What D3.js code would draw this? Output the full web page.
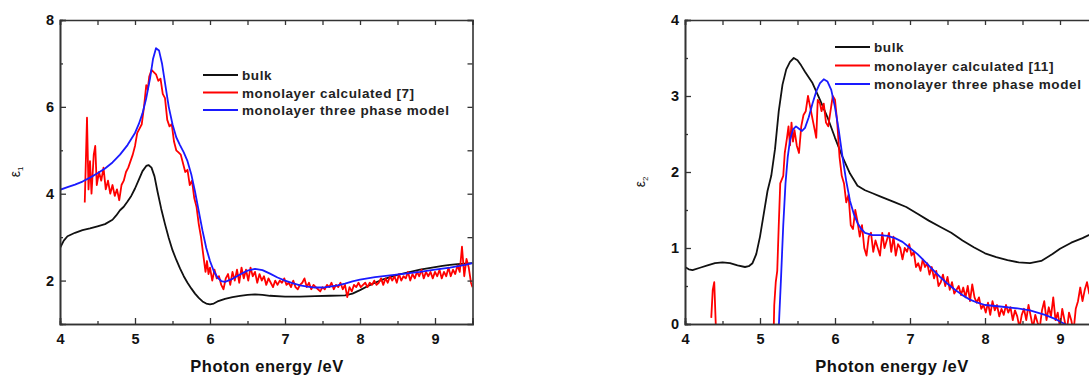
<!DOCTYPE html>
<html>
<head>
<meta charset="utf-8">
<script src="https://cdn.jsdelivr.net/npm/d3@7"></script>
<style>
  body { margin: 0; background: #fff; }
  svg { display: block; font-family: "Liberation Sans", Arial, sans-serif; font-weight: bold; }
</style>
</head>
<body>
<svg id="chart" width="1089" height="376"></svg>
<script>
// ---- data ----
const xTicks = [4, 5, 6, 7, 8, 9];
const xMinor = [4.5, 5.5, 6.5, 7.5, 8.5, 9.5];

// left panel: eps1
const e1Ticks = [2, 4, 6, 8];
const e1Minor = [3, 5, 7];
const e1Bulk = [[4.0,2.75],[4.05,2.92],[4.1,3.02],[4.2,3.1],[4.3,3.16],[4.4,3.2],[4.5,3.25],[4.6,3.3],[4.7,3.4],[4.75,3.5],[4.8,3.62],[4.85,3.7],[4.9,3.82],[4.95,3.95],[5.0,4.12],[5.05,4.32],[5.1,4.52],[5.15,4.64],[5.18,4.66],[5.22,4.6],[5.26,4.4],[5.3,4.05],[5.35,3.65],[5.4,3.3],[5.45,2.98],[5.5,2.7],[5.55,2.48],[5.6,2.28],[5.65,2.1],[5.7,1.95],[5.75,1.82],[5.8,1.7],[5.85,1.6],[5.9,1.52],[5.95,1.47],[6.0,1.45],[6.05,1.47],[6.1,1.52],[6.2,1.58],[6.3,1.62],[6.4,1.65],[6.5,1.67],[6.6,1.68],[6.7,1.67],[6.8,1.65],[7.0,1.63],[7.2,1.63],[7.4,1.64],[7.6,1.65],[7.8,1.66],[7.9,1.7],[8.0,1.78],[8.1,1.87],[8.2,1.95],[8.3,2.02],[8.4,2.08],[8.5,2.13],[8.6,2.17],[8.7,2.21],[8.8,2.25],[8.9,2.28],[9.0,2.31],[9.1,2.34],[9.2,2.36],[9.3,2.38],[9.4,2.39],[9.5,2.4]];
const e1Calc = [[4.33,3.8],[4.36,5.75],[4.38,4.1],[4.40,4.75],[4.42,4.0],[4.45,4.9],[4.47,5.1],[4.49,4.2],[4.52,4.5],[4.55,4.3],[4.58,4.6],[4.61,4.1],[4.64,4.3],[4.67,4.0],[4.70,4.2],[4.73,3.95],[4.76,4.1],[4.79,3.85],[4.82,4.2],[4.85,4.3],[4.88,4.5],[4.91,4.6],[4.94,4.75],[4.97,4.9],[5.00,5.1],[5.03,5.4],[5.06,5.5],[5.09,5.6],[5.12,6.0],[5.15,6.5],[5.17,6.4],[5.19,6.7],[5.22,6.85],[5.25,6.8],[5.28,6.75],[5.31,6.6],[5.34,6.65],[5.37,6.3],[5.40,6.2],[5.43,5.7],[5.46,5.55],[5.49,5.6],[5.52,5.2],[5.55,5.0],[5.58,4.95],[5.61,4.9],[5.64,4.7],[5.67,4.5],[5.70,4.55],[5.73,4.2],[5.76,4.3],[5.79,3.9],[5.82,3.7],[5.85,3.3],[5.88,3.0],[5.91,2.6],[5.94,2.2],[5.96,2.45],[5.98,2.15],[6.00,2.3],[6.03,2.0],[6.06,2.25],[6.09,2.05],[6.12,2.1],[6.15,1.9],[6.18,1.8],[6.21,2.05],[6.24,2.15],[6.27,1.9],[6.30,2.2],[6.33,2.0],[6.36,2.25],[6.39,1.95],[6.42,2.3],[6.45,2.05],[6.48,2.25],[6.51,2.0],[6.54,2.3],[6.57,2.1],[6.60,2.2],[6.63,1.95],[6.66,2.15],[6.69,2.0],[6.72,2.1],[6.75,1.9],[6.78,2.05],[6.81,1.95],[6.84,1.85],[6.87,2.0],[6.90,1.9],[6.93,2.0],[6.96,1.95],[6.99,2.05],[7.02,1.9],[7.05,1.95],[7.08,1.85],[7.11,2.0],[7.14,1.85],[7.17,1.8],[7.20,1.9],[7.23,1.95],[7.26,2.05],[7.29,1.85],[7.32,1.95],[7.35,1.8],[7.38,1.9],[7.41,1.85],[7.44,1.8],[7.47,1.75],[7.50,1.85],[7.53,1.8],[7.56,1.9],[7.59,1.85],[7.62,1.95],[7.65,1.8],[7.68,1.9],[7.71,1.85],[7.74,1.95],[7.77,1.8],[7.80,1.9],[7.83,1.62],[7.86,1.85],[7.89,1.75],[7.92,1.9],[7.95,1.85],[7.98,1.95],[8.01,1.85],[8.04,1.9],[8.07,1.95],[8.10,1.85],[8.13,1.95],[8.16,1.9],[8.19,2.0],[8.22,1.9],[8.25,1.95],[8.28,2.05],[8.31,1.9],[8.34,2.05],[8.37,1.95],[8.40,2.1],[8.43,2.0],[8.46,2.1],[8.49,1.95],[8.52,2.15],[8.55,2.0],[8.58,2.1],[8.61,2.05],[8.64,2.2],[8.67,2.0],[8.70,2.15],[8.73,2.05],[8.76,2.2],[8.79,2.1],[8.82,2.25],[8.85,2.05],[8.88,2.2],[8.91,2.1],[8.94,2.2],[8.97,2.05],[9.00,2.2],[9.03,2.1],[9.06,2.25],[9.09,2.05],[9.12,2.2],[9.15,2.1],[9.18,2.3],[9.21,2.1],[9.24,2.25],[9.27,2.15],[9.30,2.35],[9.33,2.2],[9.36,2.78],[9.39,2.1],[9.42,2.5],[9.45,2.3],[9.48,1.95],[9.50,1.85]];
const e1Model = [[4.0,4.09],[4.1,4.15],[4.2,4.21],[4.3,4.28],[4.4,4.37],[4.5,4.47],[4.6,4.58],[4.7,4.72],[4.8,4.9],[4.9,5.12],[5.0,5.4],[5.05,5.6],[5.1,5.85],[5.15,6.2],[5.2,6.65],[5.24,7.1],[5.28,7.35],[5.32,7.3],[5.36,7.0],[5.4,6.55],[5.45,6.0],[5.5,5.6],[5.55,5.3],[5.6,5.12],[5.65,4.95],[5.7,4.75],[5.75,4.45],[5.8,4.05],[5.85,3.6],[5.9,3.15],[5.95,2.75],[6.0,2.45],[6.05,2.22],[6.1,2.07],[6.15,1.99],[6.2,1.97],[6.3,2.04],[6.4,2.14],[6.5,2.23],[6.6,2.27],[6.7,2.24],[6.8,2.16],[6.9,2.07],[7.0,2.0],[7.1,1.94],[7.2,1.89],[7.3,1.86],[7.4,1.84],[7.5,1.84],[7.6,1.86],[7.7,1.89],[7.8,1.93],[7.9,1.98],[8.0,2.02],[8.2,2.08],[8.4,2.12],[8.6,2.16],[8.8,2.2],[9.0,2.25],[9.2,2.3],[9.4,2.36],[9.5,2.4]];

// right panel: eps2
const e2Ticks = [0, 1, 2, 3, 4];
const e2Minor = [0.5, 1.5, 2.5, 3.5];
const e2Bulk = [[4.0,0.75],[4.05,0.72],[4.1,0.71],[4.2,0.74],[4.3,0.77],[4.4,0.8],[4.5,0.81],[4.6,0.8],[4.7,0.77],[4.8,0.75],[4.85,0.76],[4.9,0.8],[4.95,0.92],[5.0,1.15],[5.05,1.45],[5.1,1.75],[5.15,1.95],[5.2,2.3],[5.25,2.8],[5.3,3.15],[5.35,3.35],[5.4,3.45],[5.45,3.5],[5.5,3.47],[5.55,3.4],[5.6,3.32],[5.7,3.17],[5.8,2.95],[5.9,2.72],[6.0,2.45],[6.1,2.2],[6.2,1.98],[6.3,1.82],[6.4,1.76],[6.5,1.72],[6.6,1.68],[6.7,1.64],[6.8,1.6],[6.95,1.54],[7.1,1.45],[7.25,1.36],[7.4,1.28],[7.55,1.2],[7.7,1.1],[7.85,1.01],[8.0,0.93],[8.15,0.88],[8.3,0.84],[8.45,0.81],[8.6,0.8],[8.75,0.83],[8.9,0.92],[9.0,0.99],[9.15,1.07],[9.3,1.13],[9.45,1.2],[9.5,1.22]];
const e2CalcA = [[4.35,0.08],[4.37,0.45],[4.39,0.55],[4.41,0.0],[4.42,-0.2]];
const e2CalcB = [[5.18,-0.2],[5.19,0.25],[5.21,0.55],[5.23,0.7],[5.25,1.3],[5.27,1.85],[5.29,1.9],[5.31,1.95],[5.33,2.25],[5.36,2.45],[5.38,2.6],[5.40,2.35],[5.42,2.65],[5.44,2.4],[5.46,2.55],[5.49,2.35],[5.52,2.25],[5.55,2.6],[5.58,2.75],[5.61,2.8],[5.64,3.0],[5.67,2.85],[5.70,2.7],[5.73,2.55],[5.75,2.45],[5.77,2.95],[5.80,2.9],[5.82,2.8],[5.85,2.9],[5.88,2.65],[5.91,2.6],[5.94,2.8],[5.97,3.0],[6.00,2.95],[6.03,2.65],[6.06,2.2],[6.09,1.95],[6.12,1.85],[6.15,1.6],[6.18,1.7],[6.21,1.3],[6.24,1.25],[6.27,1.5],[6.30,1.35],[6.33,1.15],[6.36,1.3],[6.39,1.0],[6.42,0.9],[6.45,1.15],[6.48,1.2],[6.51,0.95],[6.54,1.1],[6.57,1.0],[6.60,0.9],[6.63,1.2],[6.66,1.0],[6.69,1.1],[6.72,1.2],[6.75,0.95],[6.78,1.15],[6.81,0.9],[6.84,1.05],[6.87,1.0],[6.90,0.85],[6.93,1.0],[6.96,0.95],[6.99,1.05],[7.02,0.9],[7.05,0.95],[7.08,0.75],[7.11,0.8],[7.14,0.7],[7.17,0.85],[7.20,0.75],[7.23,0.8],[7.26,0.65],[7.29,0.75],[7.32,0.6],[7.35,0.7],[7.38,0.5],[7.41,0.55],[7.44,0.65],[7.47,0.5],[7.50,0.62],[7.53,0.45],[7.56,0.55],[7.59,0.4],[7.62,0.45],[7.65,0.5],[7.68,0.38],[7.71,0.48],[7.74,0.35],[7.77,0.5],[7.80,0.3],[7.83,0.52],[7.86,0.35],[7.89,0.28],[7.92,0.35],[7.95,0.2],[7.98,0.25],[8.01,0.15],[8.04,0.28],[8.07,0.12],[8.10,0.3],[8.13,0.18],[8.16,0.25],[8.19,0.1],[8.22,0.2],[8.25,0.12],[8.28,0.25],[8.31,0.15],[8.34,0.22],[8.37,0.05],[8.40,0.18],[8.43,0.1],[8.46,-0.05],[8.49,0.12],[8.52,0.2],[8.55,0.05],[8.58,0.25],[8.61,0.1],[8.64,-0.05],[8.67,0.12],[8.70,0.02],[8.73,-0.05],[8.76,0.18],[8.79,0.3],[8.82,0.05],[8.85,0.22],[8.88,0.1],[8.91,0.35],[8.94,0.05],[8.97,0.15],[9.00,-0.05],[9.03,0.2],[9.06,0.05],[9.09,-0.1],[9.12,0.15],[9.15,0.05],[9.18,-0.1],[9.21,0.2],[9.24,0.3],[9.27,0.48],[9.30,0.3],[9.33,0.45],[9.36,0.55],[9.39,0.4],[9.42,0.5],[9.45,0.45],[9.48,0.55],[9.50,0.5]];
const e2Model = [[5.25,-0.05],[5.28,0.6],[5.31,1.3],[5.34,1.85],[5.37,2.2],[5.4,2.42],[5.44,2.56],[5.48,2.6],[5.52,2.57],[5.56,2.54],[5.6,2.58],[5.65,2.72],[5.7,2.9],[5.75,3.06],[5.8,3.17],[5.85,3.22],[5.9,3.19],[5.95,3.08],[6.0,2.85],[6.05,2.55],[6.1,2.2],[6.15,1.88],[6.2,1.62],[6.25,1.45],[6.3,1.33],[6.35,1.25],[6.4,1.2],[6.5,1.17],[6.6,1.17],[6.7,1.16],[6.8,1.13],[6.9,1.08],[7.0,1.0],[7.1,0.92],[7.2,0.82],[7.3,0.72],[7.4,0.62],[7.5,0.53],[7.6,0.45],[7.7,0.38],[7.8,0.32],[7.9,0.28],[8.0,0.25],[8.2,0.23],[8.4,0.21],[8.6,0.18],[8.8,0.12],[8.95,0.06],[9.1,-0.02]];

const legend1 = ["bulk", "monolayer calculated [7]", "monolayer three phase model"];
const legend2 = ["bulk", "monolayer calculated [11]", "monolayer three phase model"];
const seriesColors = ["#111", "#f00", "#1a1aff"];

const svg = d3.select("#chart");
const plotTop = 20, plotBottom = 324;

function panel(opt) {
  const x = d3.scaleLinear().domain([4, 9.5]).range([opt.left, opt.left + 412.5]);
  const y = d3.scaleLinear().domain(opt.yDomain).range([plotBottom, plotTop]);
  const g = svg.append("g");
  const clipId = "clip" + opt.left;
  g.append("clipPath").attr("id", clipId).append("rect")
    .attr("x", x(4)).attr("y", plotTop).attr("width", x(9.5) - x(4)).attr("height", plotBottom - plotTop);

  const line = d3.line().x(d => x(d[0])).y(d => y(d[1]));
  const lines = g.append("g").attr("clip-path", `url(#${clipId})`);
  opt.series.forEach((s, i) => {
    const parts = Array.isArray(s[0][0]) ? s : [s];
    parts.forEach(p => lines.append("path").datum(p)
      .attr("fill", "none").attr("stroke", seriesColors[i])
      .attr("stroke-width", 1.8).attr("stroke-linejoin", "round").attr("d", line));
  });

  // axes, ticks pointing inward
  const style = a => a.call(s => {
    s.select(".domain").attr("stroke", "#333").attr("stroke-width", 1.6);
    s.selectAll(".tick line").attr("stroke", "#333").attr("stroke-width", 1.3);
    s.selectAll(".tick text").attr("fill", "#111").attr("font-size", 14.5).attr("font-weight", "bold")
      .attr("font-family", "Liberation Sans, Arial, sans-serif");
  });
  g.append("g").attr("transform", `translate(0,${plotBottom})`)
    .call(d3.axisBottom(x).tickValues(xTicks).tickFormat(d3.format("d")).tickSize(-6).tickPadding(10)).call(style);
  g.append("g").attr("transform", `translate(0,${plotBottom})`)
    .call(d3.axisBottom(x).tickValues(xMinor).tickFormat("").tickSize(-3)).call(style);
  g.append("g").attr("transform", `translate(0,${plotTop})`)
    .call(d3.axisTop(x).tickValues(xTicks.concat(xMinor)).tickFormat("").tickSize(-5)).call(style);
  g.append("g").attr("transform", `translate(${x(4)},0)`)
    .call(d3.axisLeft(y).tickValues(opt.yTicks).tickFormat(d3.format("d")).tickSize(-6).tickPadding(6)).call(style);
  g.append("g").attr("transform", `translate(${x(4)},0)`)
    .call(d3.axisLeft(y).tickValues(opt.yMinor).tickFormat("").tickSize(-3)).call(style);
  g.append("g").attr("transform", `translate(${x(9.5)},0)`)
    .call(d3.axisRight(y).tickValues(opt.yTicks.concat(opt.yMinor)).tickFormat("").tickSize(-5)).call(style);

  g.append("text").attr("x", x(4) + 207).attr("y", 372).attr("text-anchor", "middle")
    .attr("font-size", 16.5).attr("letter-spacing", 0.5).attr("fill", "#111").text("Photon energy /eV");

  const yl = g.append("text").attr("transform", `translate(${opt.left - 40},${opt.ylabY}) rotate(-90)`)
    .attr("text-anchor", "middle").attr("font-size", 14).attr("font-weight", "normal").attr("fill", "#111");
  yl.append("tspan").text("ε");
  yl.append("tspan").attr("font-size", 8).attr("dy", 3).text(opt.sub);

  // legend
  const lg = g.append("g").attr("transform", `translate(${opt.legX},${opt.legY})`);
  opt.legend.forEach((t, i) => {
    lg.append("line").attr("x1", 0).attr("x2", 35).attr("y1", i * opt.legGap).attr("y2", i * opt.legGap)
      .attr("stroke", seriesColors[i]).attr("stroke-width", 1.8);
    lg.append("text").attr("x", 39).attr("y", i * opt.legGap + 5).attr("font-size", 13.5)
      .attr("letter-spacing", 0.6).attr("fill", "#222").text(t);
  });
}

panel({ left: 60, yDomain: [1, 8], yTicks: e1Ticks, yMinor: e1Minor,
  series: [e1Bulk, e1Calc, e1Model], sub: "1", ylabY: 172,
  legend: legend1, legX: 203, legY: 75, legGap: 17.5 });
panel({ left: 685, yDomain: [0, 4], yTicks: e2Ticks, yMinor: e2Minor,
  series: [e2Bulk, [e2CalcA, e2CalcB], e2Model], sub: "2", ylabY: 182,
  legend: legend2, legX: 835, legY: 47, legGap: 18.5 });
</script>
</body>
</html>
